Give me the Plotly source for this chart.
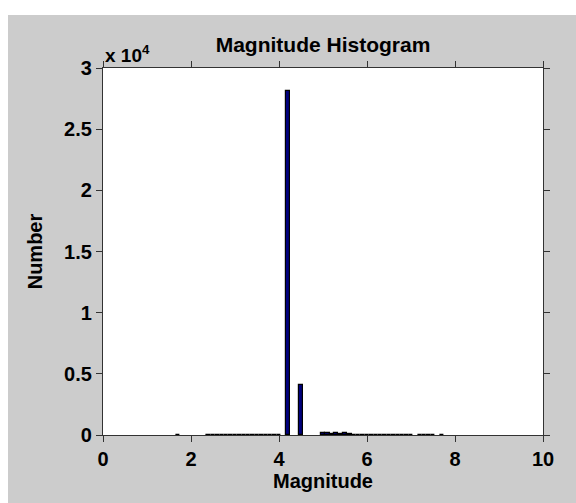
import plotly.graph_objects as go

# Histogram bin centres (magnitude) and counts
magnitude = [1.7,
             2.4, 2.5, 2.6, 2.7, 2.8, 2.9, 3.0, 3.1, 3.2, 3.3, 3.4, 3.5, 3.6, 3.7, 3.8, 3.9, 4.0,
             4.2, 4.5,
             5.0, 5.1, 5.2, 5.3, 5.4, 5.5, 5.6,
             5.7, 5.8, 5.9, 6.0, 6.1, 6.2, 6.3, 6.4, 6.5, 6.6, 6.7, 6.8, 6.9, 7.0,
             7.2, 7.3, 7.4, 7.5, 7.7]
counts = [30,
          20, 22, 25, 25, 25, 28, 30, 28, 30, 30, 30, 28, 30, 32, 30, 35, 40,
          28100, 4050,
          130, 140, 90, 140, 100, 140, 80,
          25, 22, 22, 20, 22, 20, 20, 18, 20, 18, 18, 15, 15, 15,
          25, 25, 22, 20, 20]

y_tickvals = [0, 5000, 10000, 15000, 20000, 25000, 30000]
y_ticktext = ["0", "0.5", "1", "1.5", "2", "2.5", "3"]
x_tickvals = [0, 2, 4, 6, 8, 10]

W, H = 576, 503
L, R, T, B = 103, 33, 68, 68
pw, ph = W - L - R, H - T - B

FONT = "Liberation Sans, Arial, sans-serif"
AX = "#333333"

fig = go.Figure()
fig.add_trace(go.Bar(
    x=magnitude, y=counts, width=0.1,
    marker=dict(color="#00007f", line=dict(color="#000000", width=1.2)),
    showlegend=False,
))

axis_common = dict(
    showline=True, linecolor=AX, linewidth=1.3, mirror="ticks",
    ticks="outside", ticklen=6, tickwidth=1.3, tickcolor=AX,
    showgrid=False, zeroline=False,
    tickfont=dict(family=FONT, size=20, color="#000000", weight="bold"),
)

fig.update_layout(
    width=W, height=H,
    margin=dict(l=L, r=R, t=T, b=B),
    paper_bgcolor="#cccccc",
    plot_bgcolor="#ffffff",
    bargap=0,
    xaxis=dict(range=[0, 10], tickvals=x_tickvals, **axis_common,
               title=dict(text="Magnitude", standoff=2,
                          font=dict(family=FONT, size=20, color="#000000", weight="bold"))),
    yaxis=dict(range=[0, 30000], tickvals=y_tickvals, ticktext=y_ticktext, **axis_common,
               title=dict(text="Number", standoff=16,
                          font=dict(family=FONT, size=20, color="#000000", weight="bold"))),
    title=dict(text="Magnitude Histogram", x=(L + pw / 2) / W, xanchor="center",
               y=1 - 45 / H, yanchor="middle",
               font=dict(family=FONT, size=21, color="#000000", weight="bold")),
    shapes=[
        dict(type="rect", xref="paper", yref="paper", layer="above",
             x0=(0 - L) / pw, x1=(W - L) / pw, y0=(H - T) / ph, y1=(H - T - 15) / ph,
             fillcolor="#ffffff", line=dict(width=0)),
        dict(type="rect", xref="paper", yref="paper", layer="above",
             x0=(0 - L) / pw, x1=(8 - L) / pw, y0=(H - T) / ph, y1=-B / ph,
             fillcolor="#ffffff", line=dict(width=0)),
    ],
    annotations=[
        dict(text="x 10<sup>4</sup>", xref="paper", yref="paper",
             x=0, y=1, xanchor="left", yanchor="bottom", showarrow=False,
             font=dict(family=FONT, size=19, color="#000000", weight="bold")),
    ],
)

fig.write_html("out.html")
